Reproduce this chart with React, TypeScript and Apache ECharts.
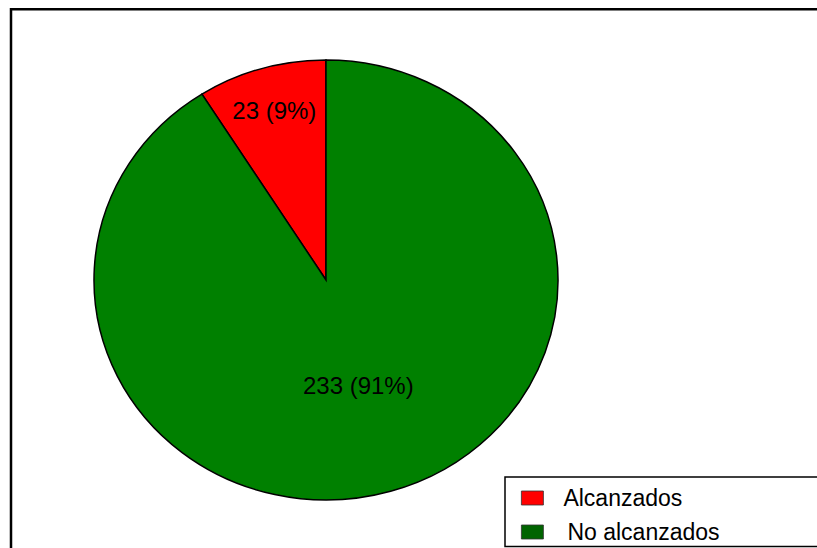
import React, { useEffect, useRef } from "react";
import * as echarts from "echarts";

// ---- data ----
const categories = ["Alcanzados", "No alcanzados"];
const values = [23, 233];
const sliceColors = ["#ff0000", "#008000"];
const legendColors = ["#ff0000", "#006400"];

// ---- layout / style constants ----
const CX = 326;
const CY = 280;
const RX = 232;
const RY = 220;
const LABEL_FRACTION = [0.8, 0.5];
const FONT = '"Liberation Sans", Arial, sans-serif';

const total = values.reduce((a, b) => a + b, 0);

function pt(thetaDeg: number, fx = 1) {
  const t = (thetaDeg * Math.PI) / 180;
  return [CX - fx * RX * Math.sin(t), CY - fx * RY * Math.cos(t)];
}

function makeRenderItem(idx: number) {
  return (params: any, api: any) => {
    const v = api.value(0);
    let before = 0;
    for (let i = 0; i < idx; i++) before += values[i];
    const a1 = (before / total) * 360;
    const a2 = ((before + v) / total) * 360;
    const p1 = pt(a1);
    const p2 = pt(a2);
    const large = a2 - a1 > 180 ? 1 : 0;
    const d = `M${CX},${CY} L${p1[0]},${p1[1]} A${RX},${RY} 0 ${large} 0 ${p2[0]},${p2[1]} Z`;
    const mid = (a1 + a2) / 2;
    const lp = pt(mid, LABEL_FRACTION[idx]);
    const pct = Math.round((v / total) * 100);
    return {
      type: "group",
      children: [
        {
          type: "path",
          shape: { pathData: d },
          style: {
            fill: sliceColors[idx],
            stroke: "#000",
            lineWidth: 1.5,
          },
        },
        {
          type: "text",
          z2: 10,
          style: {
            text: `${v} (${pct}%)`,
            x: lp[0],
            y: lp[1],
            align: "center",
            verticalAlign: "middle",
            textAlign: "center",
            textVerticalAlign: "middle",
            font: `24px ${FONT}`,
            fill: "#000",
          },
        },
      ],
    };
  };
}

export default function App() {
  const ref = useRef<HTMLDivElement>(null);
  useEffect(() => {
    if (!ref.current) return;
    const chart = echarts.init(ref.current, undefined, { renderer: "svg" });
    const option: any = {
      animation: false,
      backgroundColor: "#ffffff",
      color: sliceColors,
      legend: {
        orient: "vertical",
        left: 521,
        top: 486,
        padding: 0,
        itemWidth: 22,
        itemHeight: 14,
        itemGap: 10,
        icon: "rect",
        selectedMode: false,
        data: categories.map((name, i) => ({
          name,
          itemStyle: {
            color: legendColors[i],
            borderColor: "#333",
            borderWidth: 0.8,
          },
        })),
        formatter: (name: string) =>
          name === categories[0] ? `{a|${name}}` : `{b|${name}}`,
        textStyle: {
          fontSize: 23,
          lineHeight: 24,
          fontFamily: FONT,
          color: "#000",
          rich: {
            a: { fontSize: 23, lineHeight: 24, fontFamily: FONT, color: "#000", padding: [0, 0, 0, 15] },
            b: { fontSize: 23, lineHeight: 24, fontFamily: FONT, color: "#000", padding: [0, 0, 0, 19] },
          },
        },
      },
      graphic: [
        {
          type: "rect",
          shape: { x: 11, y: 9.3, width: 900, height: 700 },
          style: { fill: "none", stroke: "#000", lineWidth: 2.5 },
          z: -10,
        },
        {
          type: "rect",
          shape: { x: 505, y: 477, width: 400, height: 69.5 },
          style: { fill: "none", stroke: "#000", lineWidth: 1.5 },
          z: -10,
        },
      ],
      series: categories.map((name, i) => ({
        type: "custom",
        name,
        coordinateSystem: "none",
        itemStyle: { color: sliceColors[i] },
        data: [[values[i]]],
        renderItem: makeRenderItem(i),
      })),
    };
    chart.setOption(option);
    return () => chart.dispose();
  }, []);
  return (
    <div
      ref={ref}
      style={{ position: "absolute", left: 0, top: 0, width: 817, height: 548 }}
    />
  );
}
